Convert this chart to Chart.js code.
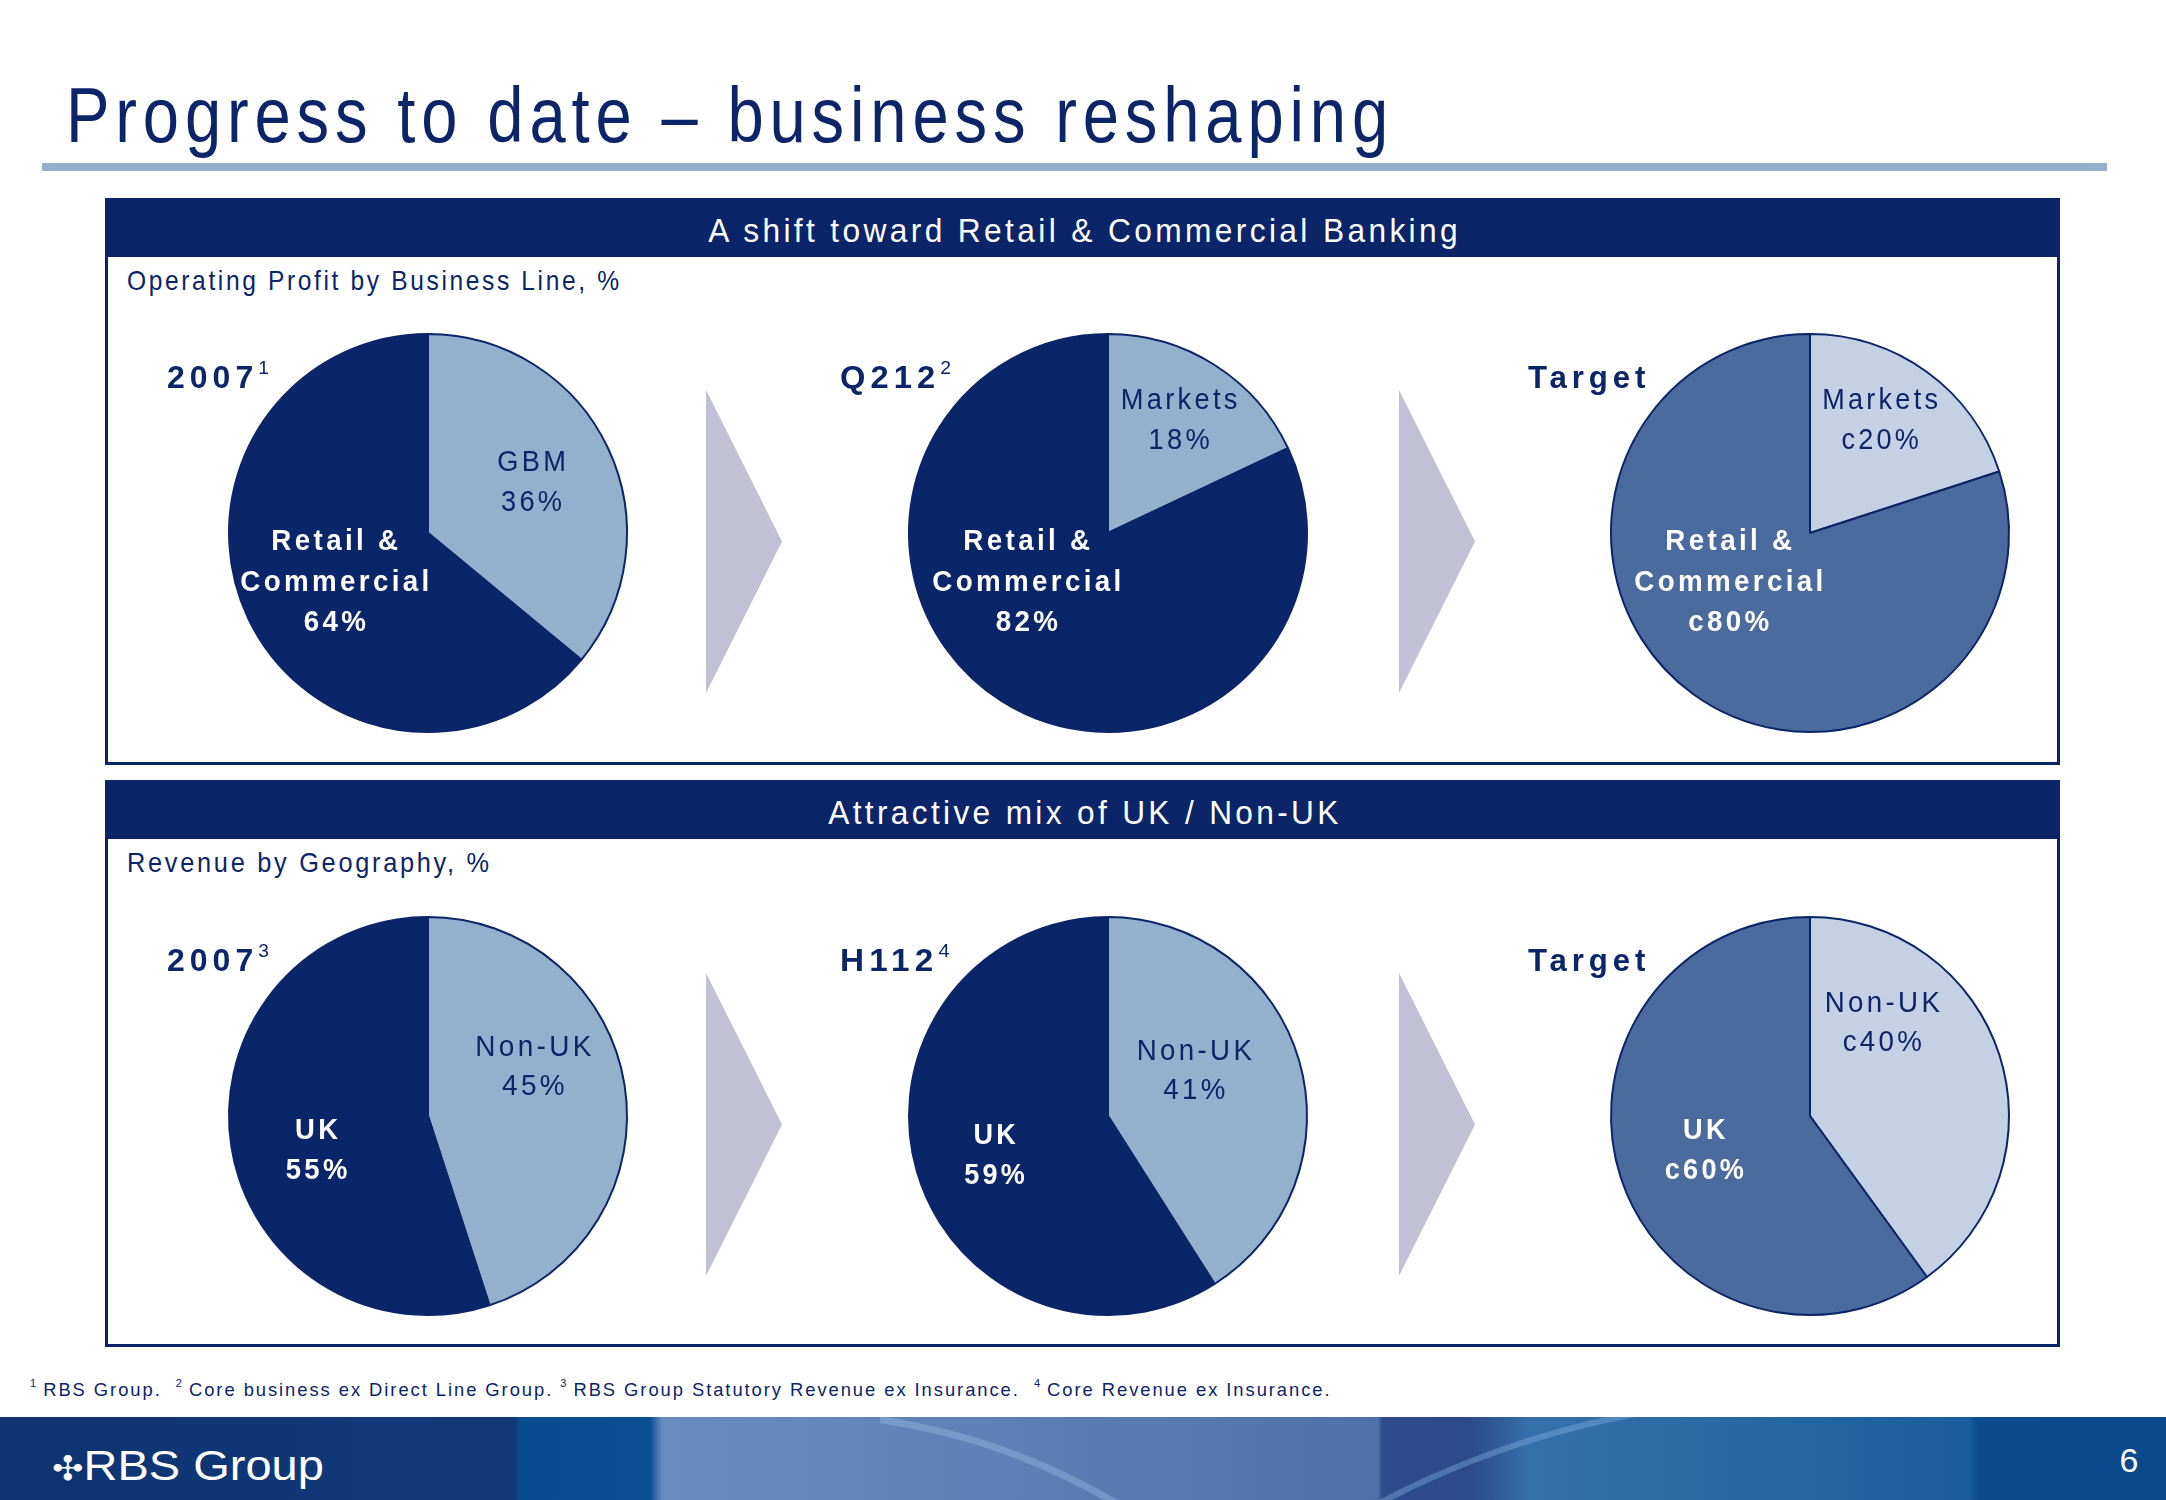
<!DOCTYPE html>
<html>
<head>
<meta charset="utf-8">
<script src="https://cdn.jsdelivr.net/npm/chart.js@4.4.0/dist/chart.umd.min.js"></script>
<style>
  html, body { margin: 0; padding: 0; background: #ffffff; }
  #page { position: relative; width: 2166px; height: 1500px; overflow: hidden; background: #ffffff;
          font-family: "Liberation Sans", Arial, Helvetica, sans-serif; }
  .t { position: absolute; white-space: nowrap; }
  .box { position: absolute; box-sizing: border-box; border: 3px solid #0b2568; background: #fff; }
  .bar { position: absolute; background: #0b2568; }
  .arrow { position: absolute; background: #c1c0d4; clip-path: polygon(0 0, 100% 50%, 0 100%); }
  canvas.pie { position: absolute; }
  sup { font-size: 0.6em; vertical-align: 0.75em; line-height: 0; font-weight: normal; letter-spacing: 0; }
  #footer { position: absolute; left: 0; top: 1417px; width: 2166px; height: 83px; overflow: hidden;
    background: linear-gradient(90deg, #0e3371 0px, #123a79 515px, #0a4c91 520px, #0b4e93 650px,
      #6a8bbf 662px, #5e80b6 1000px, #4d71a8 1378px, #2f4b8b 1382px, #2d4a8a 1470px,
      #3670aa 1530px, #2466a3 1800px, #1a5d9e 1968px, #0c4b8d 1978px, #0a498b 2166px); }
  .clip { position: absolute; top: 0; height: 83px; overflow: hidden; }
  .arc { position: absolute; border-radius: 50%; box-sizing: border-box; }
</style>
</head>
<body>
<div id="page">
  <div id="footer">
    <div class="clip" style="left:880px; width:330px;">
      <div class="arc" style="left:-730px; top:-7px; width:1280px; height:1280px; border:7px solid rgba(150,190,230,0.4);"></div>
    </div>
    <div class="clip" style="left:1360px; width:290px;">
      <div class="arc" style="left:-464px; top:-21px; width:1808px; height:1808px; border:6px solid rgba(130,180,225,0.4);"></div>
    </div>
  </div>
</div>
<script>
// ---------------- DATA ----------------
const pageTitle = "Progress to date \u2013 business reshaping";
const panelTitles = ["A shift toward Retail & Commercial Banking", "Attractive mix of UK / Non-UK"];
const panelSubtitles = ["Operating Profit by Business Line, %", "Revenue by Geography, %"];

const profitPeriods = ["2007", "Q212", "Target"];
const profitNotes = ["1", "2", ""];
const profitMinorNames = ["GBM", "Markets", "Markets"];
const profitMinorValues = [36, 18, 20];
const profitMajorName = ["Retail &", "Commercial"];
const profitMajorValues = [64, 82, 80];

const revenuePeriods = ["2007", "H112", "Target"];
const revenueNotes = ["3", "4", ""];
const revenueMinorName = "Non-UK";
const revenueMinorValues = [45, 41, 40];
const revenueMajorName = "UK";
const revenueMajorValues = [55, 59, 60];

const approximate = [false, false, true];   // "c" prefix for target values

const footnoteParts = [
  ["1", "RBS Group.\u00a0 "],
  ["2", "Core business ex Direct Line Group. "],
  ["3", "RBS Group Statutory Revenue ex Insurance.\u00a0 "],
  ["4", "Core Revenue ex Insurance."]
];
const pageNumber = "6";

// ---------------- STYLE / LAYOUT ----------------
const NAVY = "#0b2568";
const COLORS = {
  actualMajor: "#0a2568", actualMinor: "#93b0cd",
  targetMajor: "#4b6b9e", targetMinor: "#c4d0e4"
};
const pieX = [428, 1108, 1810];
const pieY = [533, 1116];
const PIE_R = 199;

const page = document.getElementById("page");

function addText(html, o) {
  const el = document.createElement("div");
  el.className = "t";
  el.innerHTML = html;
  const size = o.size, lh = o.lh || Math.round(size * 1.2);
  Object.assign(el.style, {
    fontSize: size + "px", fontWeight: o.weight || "normal", color: o.color || NAVY,
    letterSpacing: (o.ls || 0) + "px", lineHeight: lh + "px", textAlign: o.align || "left"
  });
  page.appendChild(el);
  const w = el.offsetWidth - (o.ls || 0);
  const sx = o.width ? o.width / w : 1;
  const baseOff = (lh - 1.117 * size) / 2 + 0.905 * size;
  const base = o.baseline !== undefined ? o.baseline : o.capCenter + 0.358 * size;
  el.style.top = (base - baseOff) + "px";
  if (o.align === "center") {
    el.style.left = (o.x - w / 2) + "px";
    el.style.transformOrigin = (w / 2) + "px 0";
  } else {
    el.style.left = o.x + "px";
    el.style.transformOrigin = "0 0";
  }
  el.style.transform = "scaleX(" + sx + ")";
  return el;
}

function addDiv(cls, l, t, w, h, extra) {
  const d = document.createElement("div");
  d.className = cls;
  Object.assign(d.style, { left: l + "px", top: t + "px", width: w + "px", height: h + "px" }, extra || {});
  page.appendChild(d);
  return d;
}

// Title + rule
addText(pageTitle, { x: 66, baseline: 142, size: 78, width: 1322, ls: 7 });
addDiv("rule", 42, 163, 2065, 8, { position: "absolute", background: "#93b0cb" });

// Panels
const panelTop = [198, 780];
panelTop.forEach((top, i) => {
  addDiv("box", 105, top, 1955, 567);
  addDiv("bar", 105, top, 1955, 59);
  addText(panelTitles[i], { x: 1083, baseline: top + 44, size: 33, color: "#ffffff", align: "center",
                            width: i === 0 ? 749 : 510, ls: 3.5 });
  addText(panelSubtitles[i], { x: 127, baseline: top + 93, size: 28, width: i === 0 ? 492 : 362, ls: 3 });
});

// Arrows
[706, 1399].forEach(x => {
  addDiv("arrow", x, 390, 76, 303);
  addDiv("arrow", x, 973, 76, 303);
});

// Pies
function makePie(cx, cy, values, colors, names) {
  const c = document.createElement("canvas");
  c.className = "pie";
  const S = 420;
  c.width = S; c.height = S;
  c.style.left = (cx - S / 2) + "px";
  c.style.top = (cy - S / 2) + "px";
  c.style.width = S + "px"; c.style.height = S + "px";
  page.appendChild(c);
  new Chart(c, {
    type: "pie",
    data: { labels: names, datasets: [{ data: values, backgroundColor: colors,
      borderColor: NAVY, borderWidth: 2, radius: PIE_R, hoverOffset: 0 }] },
    options: {
      responsive: false, animation: false, devicePixelRatio: 1, radius: PIE_R,
      layout: { padding: 0 }, events: [],
      plugins: { legend: { display: false }, tooltip: { enabled: false } }
    }
  });
}

const pct = (v, i) => (approximate[i] ? "c" : "") + v + "%";

// Label layout (text positions only)
const periodLabelX = [167, 840, 1528];
const profitMinorLabelPos = [[532, 461, 69], [1179, 399, 117], [1880, 399, 116]];
const profitMajorLabelPos = [[335, 540, 189], [1027, 540, 189], [1729, 540, 189]];
const revenueMinorLabelPos = [[533, 1046, 116], [1194, 1050, 115], [1882, 1002, 115]];
const revenueMajorLabelPos = [[317, 1129, 62], [995, 1134, 61], [1704, 1129, 79]];
const periodLabelWidths = [[97, 106, 117], [97, 104, 117]];

for (let i = 0; i < 3; i++) {
  const tgt = approximate[i];
  const major = tgt ? COLORS.targetMajor : COLORS.actualMajor;
  const minor = tgt ? COLORS.targetMinor : COLORS.actualMinor;
  makePie(pieX[i], pieY[0], [profitMinorValues[i], profitMajorValues[i]], [minor, major],
          [profitMinorNames[i], profitMajorName.join(" ")]);
  makePie(pieX[i], pieY[1], [revenueMinorValues[i], revenueMajorValues[i]], [minor, major],
          [revenueMinorName, revenueMajorName]);

  addText(profitPeriods[i] + (profitNotes[i] ? "<sup>" + profitNotes[i] + "</sup>" : ""),
          { x: periodLabelX[i], baseline: pieY[0] - 145, size: 32, weight: "bold", ls: 5, width: periodLabelWidths[0][i] });
  addText(revenuePeriods[i] + (revenueNotes[i] ? "<sup>" + revenueNotes[i] + "</sup>" : ""),
          { x: periodLabelX[i], baseline: pieY[1] - 145, size: 32, weight: "bold", ls: 5, width: periodLabelWidths[1][i] });

  let p = profitMinorLabelPos[i];
  addText(profitMinorNames[i] + "<br>" + pct(profitMinorValues[i], i),
          { x: p[0], capCenter: p[1], size: 29, lh: 40, align: "center", width: p[2], ls: 3.5 });
  p = profitMajorLabelPos[i];
  addText(profitMajorName[0] + "<br>" + profitMajorName[1] + "<br>" + pct(profitMajorValues[i], i),
          { x: p[0], capCenter: p[1], size: 29, lh: 40.5, align: "center", width: p[2], ls: 3.5, weight: "bold", color: "#ffffff" });
  p = revenueMinorLabelPos[i];
  addText(revenueMinorName + "<br>" + pct(revenueMinorValues[i], i),
          { x: p[0], capCenter: p[1], size: 29, lh: 39, align: "center", width: p[2], ls: 3.5 });
  p = revenueMajorLabelPos[i];
  addText(revenueMajorName + "<br>" + pct(revenueMajorValues[i], i),
          { x: p[0], capCenter: p[1], size: 29, lh: 40, align: "center", width: p[2], ls: 3.5, weight: "bold", color: "#ffffff" });
}

// Footnote
addText(footnoteParts.map(f => "<sup>" + f[0] + "</sup> " + f[1]).join(""),
        { x: 30, baseline: 1396, size: 19, width: 1300, ls: 2 });

// Footer logo and page number
addText('<span style="font-family:\'DejaVu Sans\';font-size:0.8em;">\u2723</span>RBS Group',
        { x: 52, baseline: 1481, size: 42, color: "#ffffff", width: 272 });
addText(pageNumber, { x: 2129, baseline: 1472, size: 34, color: "#ffffff", align: "center" });
</script>
</body>
</html>
